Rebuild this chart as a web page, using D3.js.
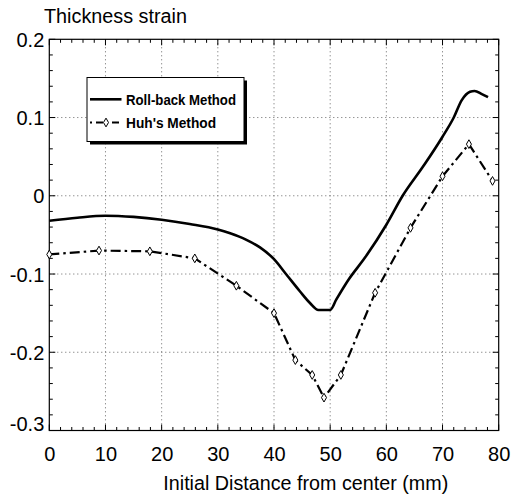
<!DOCTYPE html>
<html>
<head>
<meta charset="utf-8">
<script src="https://cdn.jsdelivr.net/npm/d3@7"></script>
<style>
  html, body { margin: 0; padding: 0; background: #fff; }
  svg { display: block; font-family: "Liberation Sans", Arial, sans-serif; }
</style>
</head>
<body>
<svg id="chart" width="524" height="499"></svg>
<script>
// ---- data ----
const rollbackX = [0, 5, 10, 15, 20, 25, 30, 32.2, 35, 37.5, 40, 42.2, 44.6, 46.4, 47.9, 50, 51.1, 53.2, 56.2, 60, 62.9, 66.5, 70, 72, 73.4, 74.9, 75.7, 77, 78.1];
const rollbackY = [-0.032, -0.028, -0.0255, -0.027, -0.0306, -0.036, -0.043, -0.048, -0.056, -0.066, -0.081, -0.1006, -0.122, -0.137, -0.146, -0.146, -0.1325, -0.108, -0.079, -0.037, 0, 0.037, 0.0755, 0.1, 0.122, 0.133, 0.134, 0.13, 0.126];

const huhX = [0, 8.85, 17.9, 25.9, 33.3, 40, 43.8, 46.8, 48.9, 51.9, 58, 64.3, 70, 74.7, 78.9];
const huhY = [-0.075, -0.07, -0.071, -0.08, -0.115, -0.15, -0.21, -0.229, -0.258, -0.229, -0.124, -0.041, 0.025, 0.066, 0.019];

const xTicks = [0, 10, 20, 30, 40, 50, 60, 70, 80];
const yTicks = [0.2, 0.1, 0, -0.1, -0.2, -0.3];
const yTickLabels = ["0.2", "0.1", "0", "-0.1", "-0.2", "-0.3"];
const seriesNames = ["Roll-back Method", "Huh's Method"];
const titleText = "Thickness strain";
const xLabelText = "Initial Distance from center (mm)";

// ---- layout ----
const svg = d3.select("#chart");
const L = 49.3, R = 498.7, T = 39.3, B = 430.5;
const x = d3.scaleLinear().domain([0, 80]).range([L, R]);
const y = d3.scaleLinear().domain([-0.3, 0.2]).range([B, T]);

// grid
const grid = svg.append("g").attr("stroke", "#666").attr("stroke-width", 1).attr("stroke-dasharray", "1,3");
xTicks.slice(1, -1).forEach(v => {
  grid.append("line").attr("x1", x(v)).attr("x2", x(v)).attr("y1", T).attr("y2", B);
});
yTicks.slice(1, -1).forEach(v => {
  grid.append("line").attr("x1", L).attr("x2", R).attr("y1", y(v)).attr("y2", y(v));
});

// axes with inward ticks (major + minor)
const xMinor = d3.range(0, 80.01, 2);
const yMinor = d3.range(-0.3, 0.2001, 0.02);
const axG = svg.append("g").attr("stroke", "#000").attr("stroke-width", 1);
xMinor.forEach(v => {
  const major = Math.abs(v % 10) < 1e-6;
  const len = major ? 6 : 3.5;
  axG.append("line").attr("x1", x(v)).attr("x2", x(v)).attr("y1", B).attr("y2", B - len);
  axG.append("line").attr("x1", x(v)).attr("x2", x(v)).attr("y1", T).attr("y2", T + len);
});
yMinor.forEach(v => {
  const major = Math.abs(Math.round(v * 100) % 10) < 1e-6;
  const len = major ? 6 : 3.5;
  axG.append("line").attr("x1", L).attr("x2", L + len).attr("y1", y(v)).attr("y2", y(v));
  axG.append("line").attr("x1", R).attr("x2", R - len).attr("y1", y(v)).attr("y2", y(v));
});
svg.append("rect").attr("x", L).attr("y", T).attr("width", R - L).attr("height", B - T)
  .attr("fill", "none").attr("stroke", "#000").attr("stroke-width", 1.2);

// tick labels via d3 axes (lines hidden)
const xAxis = d3.axisBottom(x).tickValues(xTicks).tickSize(0).tickPadding(0).tickFormat(d3.format("d"));
const xa = svg.append("g").attr("transform", `translate(0,${B})`).call(xAxis);
xa.select(".domain").remove();
xa.selectAll("text").attr("font-size", 20).attr("fill", "#000").attr("dy", null).attr("y", 30.5)
  .attr("font-family", "Liberation Sans, Arial, sans-serif");

const yAxis = d3.axisLeft(y).tickValues(yTicks).tickSize(0).tickPadding(0).tickFormat((d, i) => yTickLabels[i]);
const ya = svg.append("g").attr("transform", `translate(${L - 5},0)`).call(yAxis);
ya.select(".domain").remove();
ya.selectAll("text").attr("font-size", 20).attr("fill", "#000").attr("x", 0)
  .attr("dy", (d) => d === -0.3 ? "0em" : "0.36em")
  .attr("font-family", "Liberation Sans, Arial, sans-serif");

// title and x label
svg.append("text").attr("x", 44).attr("y", 23).attr("font-size", 20).attr("fill", "#000")
  .attr("textLength", 143).attr("lengthAdjust", "spacingAndGlyphs").text(titleText);
svg.append("text").attr("x", 163.3).attr("y", 490).attr("font-size", 20.5).attr("fill", "#000")
  .attr("textLength", 285).attr("lengthAdjust", "spacingAndGlyphs").text(xLabelText);

// series
const rbData = rollbackX.map((v, i) => [v, rollbackY[i]]);
const huhData = huhX.map((v, i) => [v, huhY[i]]);

svg.append("path").datum(rbData)
  .attr("d", d3.line().x(d => x(d[0])).y(d => y(d[1])).curve(d3.curveMonotoneX))
  .attr("fill", "none").attr("stroke", "#000").attr("stroke-width", 2.6).attr("stroke-linejoin", "round");

svg.append("path").datum(huhData)
  .attr("d", d3.line().x(d => x(d[0])).y(d => y(d[1])))
  .attr("fill", "none").attr("stroke", "#000").attr("stroke-width", 2.2)
  .attr("stroke-dasharray", "10,4,2.5,4");

const diamond = d3.symbol().type(d3.symbolDiamond).size(22);
svg.append("g").selectAll("path").data(huhData).join("path")
  .attr("transform", d => `translate(${x(d[0])},${y(d[1])})`)
  .attr("d", diamond).attr("fill", "#fff").attr("stroke", "#000").attr("stroke-width", 1);

// legend
const lg = svg.append("g");
const lx = 87, ly = 77.5, lw = 157, lh = 64;
lg.append("rect").attr("x", lx + 3).attr("y", ly + 3).attr("width", lw).attr("height", lh).attr("fill", "#000");
lg.append("rect").attr("x", lx).attr("y", ly).attr("width", lw).attr("height", lh)
  .attr("fill", "#fff").attr("stroke", "#000").attr("stroke-width", 1);
lg.append("line").attr("x1", 90).attr("x2", 121.5).attr("y1", 99.3).attr("y2", 99.3)
  .attr("stroke", "#000").attr("stroke-width", 2.6);
lg.append("line").attr("x1", 90).attr("x2", 121.5).attr("y1", 122.5).attr("y2", 122.5)
  .attr("stroke", "#000").attr("stroke-width", 1.8).attr("stroke-dasharray", "2,4,7,3");
lg.append("path").attr("transform", "translate(106,122.5)").attr("d", diamond)
  .attr("fill", "#fff").attr("stroke", "#000").attr("stroke-width", 1);
lg.append("text").attr("x", 126).attr("y", 104.5).attr("font-size", 14).attr("font-weight", "bold")
  .attr("textLength", 110).attr("lengthAdjust", "spacingAndGlyphs").text(seriesNames[0]);
lg.append("text").attr("x", 126).attr("y", 127.5).attr("font-size", 14).attr("font-weight", "bold")
  .attr("textLength", 90).attr("lengthAdjust", "spacingAndGlyphs").text(seriesNames[1]);
</script>
</body>
</html>
